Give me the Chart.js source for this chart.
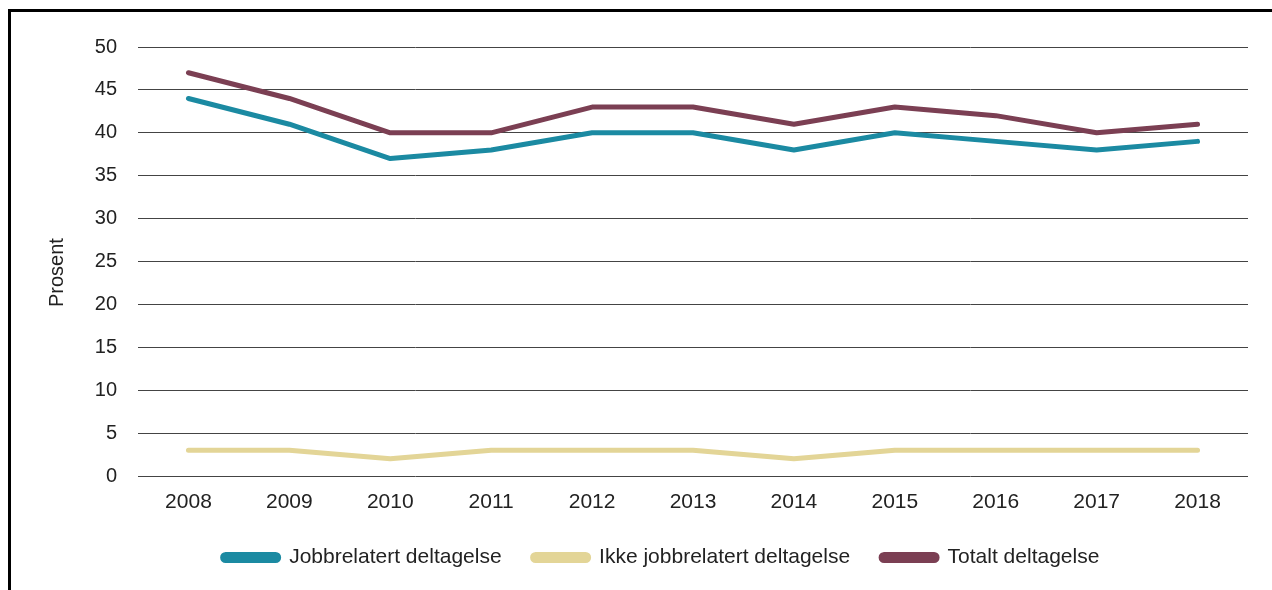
<!DOCTYPE html>
<html>
<head>
<meta charset="utf-8">
<script src="https://cdn.jsdelivr.net/npm/chart.js@4"></script>
<style>
html,body{margin:0;padding:0;background:#fff;}
#wrap{position:relative;width:1272px;height:590px;}
</style>
</head>
<body>
<div id="wrap"><canvas id="c" width="1272" height="590"></canvas></div>
<script>
const years = ['2008','2009','2010','2011','2012','2013','2014','2015','2016','2017','2018'];
const jobbrelatert = [44, 41, 37, 38, 40, 40, 38, 40, 39, 38, 39];
const ikkeJobbrelatert = [3, 3, 2, 3, 3, 3, 2, 3, 3, 3, 3];
const totalt = [47, 44, 40, 40, 43, 43, 41, 43, 42, 40, 41];
const yTicks = [0, 5, 10, 15, 20, 25, 30, 35, 40, 45, 50];

const FONT = "'Liberation Sans', Arial, sans-serif";
const framePlugin = {
  id: 'frame',
  afterLayout(chart) {
    if (chart.legend) { chart.legend.left += 37; chart.legend.right += 37; }
  },
  afterDraw(chart) {
    const ctx = chart.ctx;
    ctx.save();
    ctx.fillStyle = '#000';
    ctx.fillRect(8, 9, 3, 590 - 9);
    ctx.fillRect(8, 9, 1272 - 8, 3);
    ctx.restore();
  }
};

function ds(label, data, color) {
  return {
    label, data,
    borderColor: color, backgroundColor: color,
    borderWidth: 5, pointRadius: 0, tension: 0,
    borderCapStyle: 'round', borderJoinStyle: 'round', fill: false
  };
}

new Chart(document.getElementById('c'), {
  type: 'line',
  data: {
    labels: years,
    datasets: [
      ds('Jobbrelatert deltagelse', jobbrelatert, '#1b8aa2'),
      ds('Ikke jobbrelatert deltagelse', ikkeJobbrelatert, '#e3d597'),
      ds('Totalt deltagelse', totalt, '#7b3f53')
    ]
  },
  options: {
    responsive: false,
    animation: false,
    layout: { padding: { left: 0, right: 24, top: 47, bottom: 12 } },
    plugins: {
      legend: {
        position: 'bottom',
        labels: {
          font: { family: FONT, size: 21 },
          color: '#222',
          boxWidth: 56,
          boxHeight: 6,
          useBorderRadius: true,
          borderRadius: 3,
          padding: 31
        }
      },
      tooltip: { enabled: false }
    },
    scales: {
      x: {
        offset: true,
        grid: { display: false, drawTicks: false },
        border: { display: false },
        ticks: { font: { family: FONT, size: 21 }, color: '#222', padding: 14, maxRotation: 0 },
        afterFit(s) { s.height = 40; }
      },
      y: {
        min: 0, max: 50,
        afterBuildTicks(s) { s.ticks = yTicks.map(v => ({ value: v })); },
        grid: { color: '#444', lineWidth: 1, drawTicks: false },
        border: { display: false },
        ticks: { font: { family: FONT, size: 20 }, color: '#222', padding: 21 },
        title: {
          display: true, text: 'Prosent    ',
          font: { family: FONT, size: 20 }, color: '#222',
          padding: { top: 45, bottom: 0 }
        },
        afterFit(s) { s.width = 138; }
      }
    }
  },
  plugins: [framePlugin]
});
</script>
</body>
</html>
